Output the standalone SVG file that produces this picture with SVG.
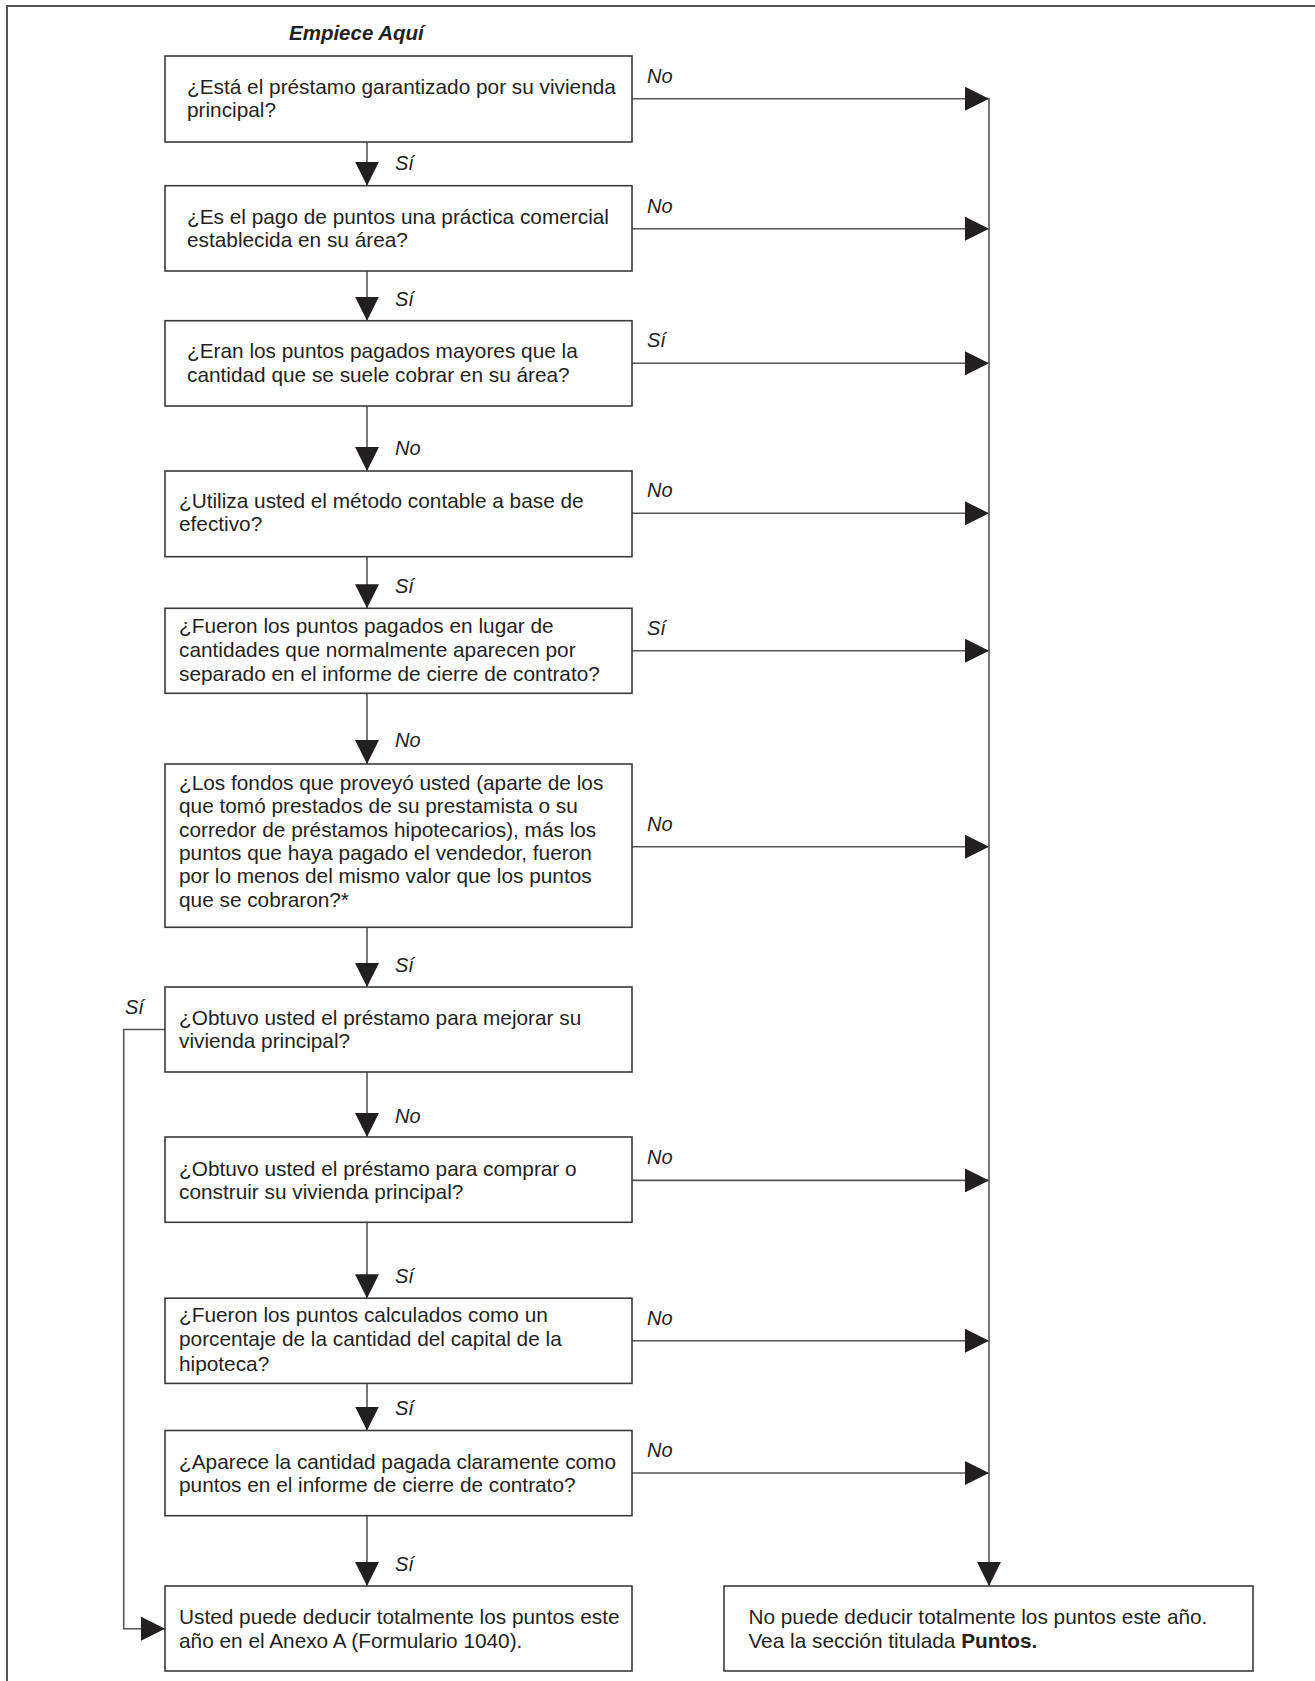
<svg xmlns="http://www.w3.org/2000/svg" width="1315" height="1681" viewBox="0 0 1315 1681">
<defs>
<style>
.box{fill:#fff;stroke:#3a3a3a;stroke-width:1.6}
.t{font-family:"Liberation Sans",Arial,sans-serif;font-size:20.8px;fill:#231f20}
.lab{font-family:"Liberation Sans",Arial,sans-serif;font-size:20px;font-style:italic;fill:#231f20}
.title{font-family:"Liberation Sans",Arial,sans-serif;font-size:20.5px;font-style:italic;font-weight:bold;fill:#231f20}
.ln{fill:none;stroke:#555;stroke-width:1.6}
.frame{fill:none;stroke:#555;stroke-width:2}
</style>
<marker id="ah" markerUnits="userSpaceOnUse" markerWidth="24" markerHeight="24" viewBox="0 0 23 23" refX="23" refY="11.5" orient="auto">
<path d="M0,0 L23,11.5 L0,23 Z" fill="#231f20"/>
</marker>
</defs>
<rect width="1315" height="1681" fill="#fff"/>
<path class="frame" d="M7,1681 V6 H1315"/>
<text class="title" x="289" y="40">Empiece Aquí</text>

<g id="connectors">
<line class="ln" x1="367" y1="142" x2="367" y2="185.7" marker-end="url(#ah)"/>
<line class="ln" x1="367" y1="271" x2="367" y2="320.7" marker-end="url(#ah)"/>
<line class="ln" x1="367" y1="406" x2="367" y2="471" marker-end="url(#ah)"/>
<line class="ln" x1="367" y1="556.7" x2="367" y2="608.3" marker-end="url(#ah)"/>
<line class="ln" x1="367" y1="693.3" x2="367" y2="764" marker-end="url(#ah)"/>
<line class="ln" x1="367" y1="927.3" x2="367" y2="987" marker-end="url(#ah)"/>
<line class="ln" x1="367" y1="1072" x2="367" y2="1137" marker-end="url(#ah)"/>
<line class="ln" x1="367" y1="1222.3" x2="367" y2="1298.2" marker-end="url(#ah)"/>
<line class="ln" x1="367" y1="1383.4" x2="367" y2="1430.5" marker-end="url(#ah)"/>
<line class="ln" x1="367" y1="1515.7" x2="367" y2="1586" marker-end="url(#ah)"/>

<line class="ln" x1="632" y1="98.7" x2="989" y2="98.7" marker-end="url(#ah)"/>
<line class="ln" x1="632" y1="228.7" x2="989" y2="228.7" marker-end="url(#ah)"/>
<line class="ln" x1="632" y1="363.3" x2="989" y2="363.3" marker-end="url(#ah)"/>
<line class="ln" x1="632" y1="513.3" x2="989" y2="513.3" marker-end="url(#ah)"/>
<line class="ln" x1="632" y1="650.7" x2="989" y2="650.7" marker-end="url(#ah)"/>
<line class="ln" x1="632" y1="846.7" x2="989" y2="846.7" marker-end="url(#ah)"/>
<line class="ln" x1="632" y1="1180.4" x2="989" y2="1180.4" marker-end="url(#ah)"/>
<line class="ln" x1="632" y1="1340.8" x2="989" y2="1340.8" marker-end="url(#ah)"/>
<line class="ln" x1="632" y1="1473" x2="989" y2="1473" marker-end="url(#ah)"/>

<line class="ln" x1="989" y1="98" x2="989" y2="1586" marker-end="url(#ah)"/>
<path class="ln" d="M165,1029.5 H123.7 V1628.7 H165" marker-end="url(#ah)"/>

<text class="lab" x="395" y="170">Sí</text>
<text class="lab" x="395" y="306">Sí</text>
<text class="lab" x="395" y="455">No</text>
<text class="lab" x="395" y="593.3">Sí</text>
<text class="lab" x="395" y="746.7">No</text>
<text class="lab" x="395" y="972">Sí</text>
<text class="lab" x="395" y="1123">No</text>
<text class="lab" x="395" y="1283.4">Sí</text>
<text class="lab" x="395" y="1415">Sí</text>
<text class="lab" x="395" y="1570.5">Sí</text>

<text class="lab" x="647" y="82.7">No</text>
<text class="lab" x="647" y="212.7">No</text>
<text class="lab" x="647" y="347.3">Sí</text>
<text class="lab" x="647" y="497.3">No</text>
<text class="lab" x="647" y="634.7">Sí</text>
<text class="lab" x="647" y="830.7">No</text>
<text class="lab" x="647" y="1164.4">No</text>
<text class="lab" x="647" y="1324.8">No</text>
<text class="lab" x="647" y="1457">No</text>
<text class="lab" x="125" y="1013.5">Sí</text>
</g>

<g id="q1">
<rect class="box" x="165" y="56" width="467" height="86"/>
<text class="t" x="187" y="94.3">¿Está el préstamo garantizado por su vivienda</text>
<text class="t" x="187" y="117.3">principal?</text>
</g>
<g id="q2">
<rect class="box" x="165" y="185.7" width="467" height="85.3"/>
<text class="t" x="187" y="224">¿Es el pago de puntos una práctica comercial</text>
<text class="t" x="187" y="246.7">establecida en su área?</text>
</g>
<g id="q3">
<rect class="box" x="165" y="320.7" width="467" height="85.3"/>
<text class="t" x="187" y="358.3">¿Eran los puntos pagados mayores que la</text>
<text class="t" x="187" y="381.7">cantidad que se suele cobrar en su área?</text>
</g>
<g id="q4">
<rect class="box" x="165" y="471" width="467" height="85.7"/>
<text class="t" x="179" y="508.3">¿Utiliza usted el método contable a base de</text>
<text class="t" x="179" y="531">efectivo?</text>
</g>
<g id="q5">
<rect class="box" x="165" y="608.3" width="467" height="85"/>
<text class="t" x="179" y="633.3">¿Fueron los puntos pagados en lugar de</text>
<text class="t" x="179" y="656.7">cantidades que normalmente aparecen por</text>
<text class="t" x="179" y="681">separado en el informe de cierre de contrato?</text>
</g>
<g id="q6">
<rect class="box" x="165" y="764" width="467" height="163.3"/>
<text class="t" x="179" y="790">¿Los fondos que proveyó usted (aparte de los</text>
<text class="t" x="179" y="813.3">que tomó prestados de su prestamista o su</text>
<text class="t" x="179" y="836.7">corredor de préstamos hipotecarios), más los</text>
<text class="t" x="179" y="860">puntos que haya pagado el vendedor, fueron</text>
<text class="t" x="179" y="883.3">por lo menos del mismo valor que los puntos</text>
<text class="t" x="179" y="906.7">que se cobraron?*</text>
</g>
<g id="q7">
<rect class="box" x="165" y="987" width="467" height="85"/>
<text class="t" x="179" y="1025">¿Obtuvo usted el préstamo para mejorar su</text>
<text class="t" x="179" y="1048">vivienda principal?</text>
</g>
<g id="q8">
<rect class="box" x="165" y="1137" width="467" height="85.3"/>
<text class="t" x="179" y="1176">¿Obtuvo usted el préstamo para comprar o</text>
<text class="t" x="179" y="1199.3">construir su vivienda principal?</text>
</g>
<g id="q9">
<rect class="box" x="165" y="1298.2" width="467" height="85.2"/>
<text class="t" x="179" y="1322.3">¿Fueron los puntos calculados como un</text>
<text class="t" x="179" y="1346.4">porcentaje de la cantidad del capital de la</text>
<text class="t" x="179" y="1370.5">hipoteca?</text>
</g>
<g id="q10">
<rect class="box" x="165" y="1430.5" width="467" height="85.2"/>
<text class="t" x="179" y="1468.6">¿Aparece la cantidad pagada claramente como</text>
<text class="t" x="179" y="1492">puntos en el informe de cierre de contrato?</text>
</g>
<g id="yes">
<rect class="box" x="165" y="1586" width="467" height="85"/>
<text class="t" x="179" y="1624.3">Usted puede deducir totalmente los puntos este</text>
<text class="t" x="179" y="1647.6">año en el Anexo A (Formulario 1040).</text>
</g>
<g id="no">
<rect class="box" x="724" y="1586" width="529" height="85"/>
<text class="t" x="748.4" y="1624.3">No puede deducir totalmente los puntos este año.</text>
<text class="t" x="748.4" y="1647.6">Vea la sección titulada <tspan font-weight="bold">Puntos.</tspan></text>
</g>
</svg>
